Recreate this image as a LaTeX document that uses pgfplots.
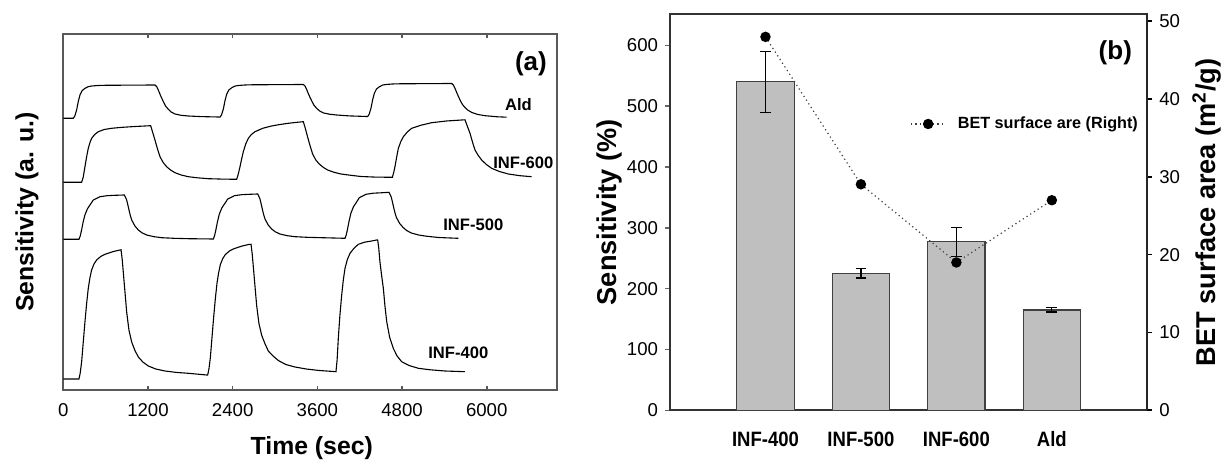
\documentclass[border=0pt]{standalone}
\usepackage{fontspec}
\setmainfont{Liberation Sans}
\newfontfamily\narrowsans[FakeStretch=0.89]{Liberation Sans}
\usepackage{pgfplots}
\pgfplotsset{compat=1.18}

\newcommand{\tickfont}{\fontsize{9.3}{10}\selectfont}
\newcommand{\labfont}{\fontsize{12.4}{14}\selectfont\bfseries}
\newcommand{\rlabfont}{\fontsize{13.6}{15}\selectfont\bfseries}
\newcommand{\smallbold}{\fontsize{8.3}{9}\selectfont\bfseries}
\newcommand{\legfont}{\fontsize{8.1}{9}\selectfont\bfseries}
\newcommand{\tagfont}{\fontsize{13}{15}\selectfont\bfseries}
\newcommand{\catfont}{\narrowsans\fontsize{10.4}{12}\selectfont\bfseries}

\begin{document}
\begin{tikzpicture}
\useasboundingbox (0,0) rectangle (612.5pt,232.5pt);

% (a) response transients, y in arbitrary units
\begin{axis}[
  at={(31.65pt,37.5pt)}, anchor=south west,
  scale only axis, width=247pt, height=178pt,
  xmin=0, xmax=7000, ymin=0, ymax=356,
  xtick={0,1200,2400,3600,4800,6000}, ytick=\empty,
  xtick pos=both, xticklabel pos=bottom,
  tick align=inside, major tick length=2.2pt,
  axis line style={black!65, line width=0.9pt},
  tick style={black!65, line width=0.8pt},
  tick label style={font=\tickfont},
  xticklabel style={yshift=-3.2pt},
  /pgf/number format/assume math mode=true,
  /pgf/number format/set thousands separator={},
  xlabel={Time (sec)}, ylabel={Sensitivity (a. u.)},
  label style={font=\labfont},
  xlabel style={at={(axis description cs:0.503,-0.163)}, anchor=center},
  ylabel style={at={(axis description cs:-0.0735,0.5)}, anchor=center},
]
% Ald
\addplot[black, line width=0.55pt] coordinates {
 (0,271.7) (142,271.7) (162,273.7) (189,280.0) (212,288.4) (236,295.0) (267,299.3)
 (307,301.7) (352,303.3) (402,304.0) (492,304.5) (592,304.7) (1299,305.0)
 (1324,303.3) (1346,300.0) (1379,294.3) (1417,288.4) (1449,284.0) (1488,280.7)
 (1529,278.0) (1582,276.0) (1669,274.7) (1771,274.0) (1949,273.4) (2196,273.0)
 (2221,272.9) (2241,274.9) (2268,281.0) (2291,289.2) (2315,295.7) (2346,300.0)
 (2386,302.2) (2431,303.9) (2481,304.5) (2571,305.0) (2671,305.2) (3401,305.5)
 (3426,303.9) (3448,300.6) (3481,294.9) (3519,289.2) (3551,284.9) (3590,281.7)
 (3631,279.1) (3684,277.1) (3771,275.8) (3873,275.0) (4051,274.1) (4298,273.5)
 (4313,273.5) (4333,275.5) (4360,281.8) (4383,290.0) (4407,296.6) (4438,301.0)
 (4478,303.2) (4523,304.9) (4573,305.5) (4663,306.0) (4763,306.2) (5504,306.5)
 (5529,304.8) (5551,301.5) (5584,295.9) (5622,290.0) (5654,285.7) (5693,282.4)
 (5734,279.8) (5787,277.6) (5874,275.5) (5976,274.3) (6154,273.2) (6283,272.8)
};
% INF-600
\addplot[black, line width=0.55pt] coordinates {
 (0,207.7) (260,207.7) (283,213) (307,223.3) (330,233) (354,241.7) (378,247.5)
 (402,251.7) (445,255.5) (496,258.3) (580,260.5) (685,261.7) (820,262.6) (969,263.3)
 (1100,263.8) (1238,264.3) (1265,258) (1299,250) (1335,241) (1370,233.3) (1415,227.5)
 (1464,223.3) (1520,220) (1582,217.3) (1670,215) (1771,213.3) (1900,212.2) (2055,211.3)
 (2250,210.9) (2457,210.7) (2480,216) (2504,223.3) (2527,231) (2551,238.3) (2585,246)
 (2622,251.7) (2665,255.5) (2716,258.3) (2830,261.8) (2952,264) (3070,265.5) (3188,266.7)
 (3300,267.6) (3401,268.3) (3428,262) (3462,253) (3498,244) (3533,236) (3578,230)
 (3627,226) (3683,222.7) (3745,220) (3833,217.8) (3934,216) (4063,214.8) (4218,213.5)
 (4420,212.9) (4663,212.7) (4682,217.5) (4700,223.3) (4724,233) (4748,241.7) (4783,248.5)
 (4819,253.3) (4875,258) (4937,261.7) (5070,264.8) (5220,267.3) (5430,269) (5645,270)
 (5692,270.2) (5727,263.5) (5763,256.7) (5800,247.5) (5834,240) (5880,234.5) (5928,230)
 (5995,225.5) (6070,221.7) (6180,218.5) (6306,216) (6470,214.3) (6636,213.3)
};
% INF-500
\addplot[black, line width=0.55pt] coordinates {
 (0,150.7) (222,150.7) (240,154) (259,160) (280,167.5) (306,175) (342,181.2) (378,185)
 (425,190) (520,193.3) (622,194.3) (733,194.7) (865,195) (883,192.5) (898,190) (915,185)
 (931,180) (950,174.5) (969,170) (1015,164) (1063,160) (1115,157.2) (1181,155)
 (1285,153.3) (1394,152.3) (1565,151.7) (1771,151.3) (2126,151) (2144,154.4) (2163,160.4)
 (2184,168) (2210,175.7) (2246,182) (2282,185.8) (2329,190.9) (2424,194.3) (2526,195.3)
 (2637,195.7) (2754,196) (2772,193.5) (2787,191) (2804,186) (2820,181) (2839,175.5)
 (2858,171) (2904,165) (2952,161) (3004,158.2) (3070,156) (3174,154.3) (3283,153.3)
 (3454,152.7) (3660,152.3) (3992,151.7) (4010,155.2) (4029,161.4) (4050,169) (4076,176.9)
 (4112,183.3) (4148,187.1) (4195,192.3) (4290,195.7) (4392,196.8) (4503,197.2) (4615,197.7)
 (4633,195.2) (4648,192.7) (4665,187.7) (4681,182.7) (4700,177.2) (4719,172.7) (4765,166.7)
 (4813,162.7) (4865,159.5) (4931,157) (5035,155) (5144,153.8) (5315,152.5) (5521,151.9)
 (5597,151.7)
};
% INF-400
\addplot[black, line width=0.55pt] coordinates {
 (0,11) (222,11) (240,17) (260,28.3) (283,48) (307,68.3) (330,86) (354,101.7) (377,112)
 (401,120) (435,126) (472,130) (530,133.5) (591,135.7) (700,138.3) (803,140) (818,140.2)
 (834,131) (850,118) (874,98) (898,78) (930,60) (969,48) (1015,39.5) (1063,33)
 (1130,27.8) (1205,24) (1310,21) (1441,19) (1600,17.6) (1771,16.7) (2032,15) (2046,15)
 (2064,21.1) (2084,32.5) (2107,52.4) (2131,73) (2154,90.9) (2178,106.8) (2201,117.2)
 (2225,125.3) (2259,131.4) (2296,135.4) (2354,139) (2415,141.2) (2524,143.8) (2627,145.5)
 (2660,145.7) (2676,136.6) (2692,123.8) (2716,104.1) (2740,84.4) (2772,66.6) (2811,54.8)
 (2857,46.4) (2905,39) (2972,34) (3047,29.5) (3152,25.5) (3283,23) (3442,21) (3613,19.6)
 (3864,18.3) (3880,30) (3897,51.7) (3920,75) (3945,95) (3968,110) (3992,121.7)
 (4025,130.5) (4063,136.7) (4120,141.8) (4181,145.7) (4270,147.8) (4370,149) (4441,150)
 (4455,150) (4470,142) (4487,128) (4510,115) (4535,101.7) (4558,84) (4583,68.3)
 (4625,52.5) (4676,41.7) (4730,34) (4795,28.3) (4900,24.5) (5031,21.7) (5200,20.2)
 (5409,19) (5692,18.3)
};
\node[font=\smallbold] at (axis cs:6449,285) {Ald};
\node[font=\smallbold] at (axis cs:6518,227.3) {INF-600};
\node[font=\smallbold] at (axis cs:5810,165.7) {INF-500};
\node[font=\smallbold] at (axis cs:5597,37.3) {INF-400};
\node[font=\tagfont] at (axis cs:6627,326.7) {(a)};
\end{axis}

% (b) sensitivity bars, left axis
\begin{axis}[
  at={(335pt,27.35pt)}, anchor=south west,
  scale only axis, width=238.65pt, height=198pt,
  xmin=0, xmax=5, ymin=0, ymax=651,
  xtick={1,2,3,4}, xticklabels={INF-400,INF-500,INF-600,Ald},
  xtick style={draw=none},
  ytick={0,100,200,300,400,500,600}, ytick pos=left,
  tick align=outside, major tick length=2.5pt,
  axis line style={black!80, line width=0.9pt},
  tick style={black!60, line width=0.8pt},
  yticklabel style={font=\tickfont},
  xticklabel style={font=\catfont, yshift=-4.6pt},
  /pgf/number format/assume math mode=true,
  ylabel={Sensitivity (\%)}, ylabel style={font=\rlabfont,
    at={(axis description cs:-0.126,0.5)}, anchor=center},
  ybar, bar width=0.6,
]
\addplot[fill=gray!50, draw=black!75, line width=0.6pt,
  error bars/.cd, y dir=both, y explicit,
  error bar style={black, line width=0.6pt, solid},
  error mark options={rotate=90, mark size=2.7pt, line width=0.6pt, black}]
  coordinates {(1,540) +- (0,50) (2,225) +- (0,7.5) (3,277) +- (0,24) (4,165) +- (0,3.5)};
\node[font=\tagfont] at (axis cs:4.665,587) {(b)};
\end{axis}

% (b) BET surface area, right axis
\begin{axis}[
  at={(335pt,27.35pt)}, anchor=south west,
  scale only axis, width=238.65pt, height=198pt,
  xmin=0, xmax=5, ymin=0, ymax=50.9,
  axis x line=none, axis y line*=right,
  ytick={0,10,20,30,40,50},
  tick align=outside, major tick length=2.5pt,
  axis line style={black!85, line width=0.9pt},
  tick style={black, line width=0.8pt},
  yticklabel style={font=\tickfont},
  /pgf/number format/assume math mode=true,
  ylabel={BET surface area (m\textsuperscript{2}/g)},
  ylabel style={font=\rlabfont, at={(axis description cs:1.125,0.5)}, anchor=center},
  legend style={draw=none, fill=none, font=\legfont,
    at={(axis description cs:0.503,0.723)}, anchor=west, inner sep=0pt,
    /tikz/every odd column/.style={column sep=4pt}},
]
\addplot[black!75, line width=0.6pt, dash pattern=on 0.6pt off 1.6pt,
  mark=*, mark size=2.3pt, mark options={solid, fill=black, draw=black}]
  coordinates {(1,48) (2,29.05) (3,19) (4,27)};
\addlegendentry{BET surface are (Right)}
\end{axis}
\end{tikzpicture}
\end{document}
